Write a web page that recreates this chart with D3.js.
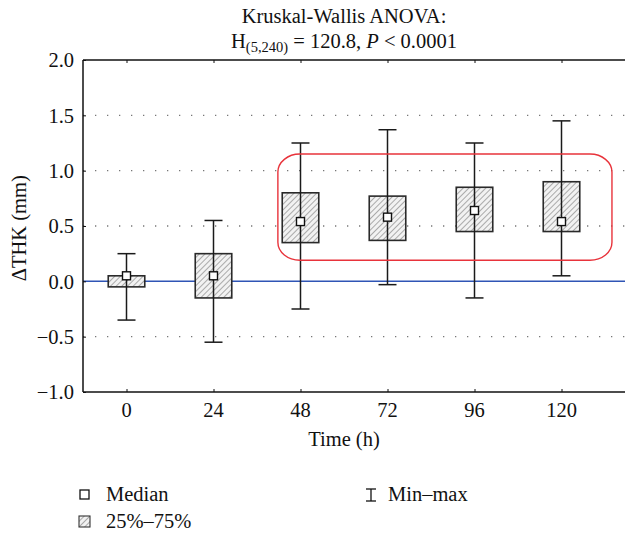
<!DOCTYPE html>
<html>
<head>
<meta charset="utf-8">
<script src="https://cdn.jsdelivr.net/npm/d3@7"></script>
<style>
  body { margin: 0; background: #fff; }
</style>
</head>
<body>
<div id="chart"></div>
<script>
// values
const times = ['0', '24', '48', '72', '96', '120'];
const medians = [0.05, 0.05, 0.54, 0.58, 0.64, 0.54];
const q1s = [-0.05, -0.15, 0.35, 0.37, 0.45, 0.45];
const q3s = [0.05, 0.25, 0.80, 0.77, 0.85, 0.90];
const mins = [-0.35, -0.55, -0.25, -0.03, -0.15, 0.05];
const maxs = [0.25, 0.55, 1.25, 1.37, 1.25, 1.45];
const yTicks = [-1.0, -0.5, 0.0, 0.5, 1.0, 1.5, 2.0];
const gridValues = [-0.5, 0.5, 1.0, 1.5];
// highlighted group (48-120 h), y extent of the red frame
const highlight = { from: '48', to: '120', top: 1.15, bottom: 0.19 };

const data = times.map((t, i) => ({
    time: t, median: medians[i], q1: q1s[i], q3: q3s[i], min: mins[i], max: maxs[i]
}));

const W = 625, H = 535;
const margin = { left: 83, top: 60, right: 20, bottom: 143 };
const plotRight = W - margin.right;
const plotBottom = H - margin.bottom;
const serif = "'Liberation Serif', 'Times New Roman', Times, serif";
const fs = 20.5;

const svg = d3.select('#chart').append('svg')
    .attr('width', W)
    .attr('height', H)
    .style('display', 'block')
    .style('font-family', serif);

const x = d3.scalePoint()
    .domain(times)
    .range([margin.left, plotRight])
    .padding(0.5);

const y = d3.scaleLinear()
    .domain([-1, 2])
    .range([plotBottom, margin.top]);

const step = x.step();
const boxW = step * 0.42;
const capW = 18;

// hatch pattern
const defs = svg.append('defs');
const pat = defs.append('pattern')
    .attr('id', 'hatch')
    .attr('patternUnits', 'userSpaceOnUse')
    .attr('width', 4)
    .attr('height', 4)
    .attr('patternTransform', 'rotate(45)');
pat.append('rect').attr('width', 4).attr('height', 4).attr('fill', '#f2f2f2');
pat.append('line')
    .attr('x1', 0).attr('y1', 0).attr('x2', 0).attr('y2', 4)
    .attr('stroke', '#6e6e6e').attr('stroke-width', 1.1);

// dotted grid
svg.append('g').selectAll('line')
    .data(gridValues)
    .join('line')
    .attr('x1', margin.left).attr('x2', W)
    .attr('y1', d => y(d)).attr('y2', d => y(d))
    .attr('stroke', '#777')
    .attr('stroke-width', 1.3)
    .attr('stroke-dasharray', '1.3,10.7');

// zero line
svg.append('line')
    .attr('x1', margin.left).attr('x2', W)
    .attr('y1', y(0)).attr('y2', y(0))
    .attr('stroke', '#2f55b5')
    .attr('stroke-width', 1.5);

// frame: left, top, bottom
const axisColor = '#111';
svg.append('line')
    .attr('x1', margin.left).attr('x2', margin.left)
    .attr('y1', margin.top).attr('y2', plotBottom)
    .attr('stroke', axisColor).attr('stroke-width', 1.5);
svg.append('line')
    .attr('x1', margin.left).attr('x2', W)
    .attr('y1', margin.top).attr('y2', margin.top)
    .attr('stroke', axisColor).attr('stroke-width', 1.5);
svg.append('line')
    .attr('x1', margin.left).attr('x2', W)
    .attr('y1', plotBottom).attr('y2', plotBottom)
    .attr('stroke', axisColor).attr('stroke-width', 1.5);

// y axis (inward ticks)
const yAxis = svg.append('g')
    .attr('transform', `translate(${margin.left},0)`)
    .call(d3.axisRight(y).tickValues(yTicks).tickSize(3).tickFormat(''));
yAxis.select('.domain').remove();
yAxis.selectAll('line').attr('stroke', axisColor);

svg.append('g').selectAll('text')
    .data(yTicks)
    .join('text')
    .attr('x', margin.left - 9)
    .attr('y', d => y(d))
    .attr('dy', '0.35em')
    .attr('text-anchor', 'end')
    .style('font-size', fs + 'px')
    .attr('fill', '#111')
    .text(d => d3.format('.1f')(d).replace('-', '\u2212'));

// x axis bottom and top (inward ticks)
const xBottom = svg.append('g')
    .attr('transform', `translate(0,${plotBottom})`)
    .call(d3.axisTop(x).tickSize(3).tickFormat(''));
xBottom.select('.domain').remove();
xBottom.selectAll('line').attr('stroke', axisColor);

const xTop = svg.append('g')
    .attr('transform', `translate(0,${margin.top})`)
    .call(d3.axisBottom(x).tickSize(3).tickFormat(''));
xTop.select('.domain').remove();
xTop.selectAll('line').attr('stroke', axisColor);

svg.append('g').selectAll('text')
    .data(times)
    .join('text')
    .attr('x', d => x(d))
    .attr('y', plotBottom + 25)
    .attr('text-anchor', 'middle')
    .style('font-size', fs + 'px')
    .attr('fill', '#111')
    .text(d => d);

// axis titles
svg.append('text')
    .attr('x', (margin.left + plotRight) / 2)
    .attr('y', plotBottom + 54)
    .attr('text-anchor', 'middle')
    .style('font-size', fs + 'px')
    .attr('fill', '#111')
    .text('Time (h)');

svg.append('text')
    .attr('transform', `translate(26,${y(0.48)}) rotate(-90)`)
    .attr('text-anchor', 'middle')
    .style('font-size', fs + 'px')
    .attr('fill', '#111')
    .text('\u0394THK (mm)');

// title
const title = svg.append('g').style('font-size', fs + 'px').attr('fill', '#111');
title.append('text')
    .attr('x', (margin.left + plotRight) / 2)
    .attr('y', 23)
    .attr('text-anchor', 'middle')
    .text('Kruskal-Wallis ANOVA:');
const t2 = title.append('text')
    .attr('x', (margin.left + plotRight) / 2)
    .attr('y', 48)
    .attr('text-anchor', 'middle');
t2.append('tspan').text('H');
t2.append('tspan').style('font-size', '14.5px').attr('dy', 4).text('(5,240)');
t2.append('tspan').attr('dy', -4).text(' = 120.8, ');
t2.append('tspan').style('font-style', 'italic').text('P');
t2.append('tspan').text(' < 0.0001');

// boxes
const groups = svg.append('g').selectAll('g')
    .data(data)
    .join('g');

groups.append('rect')
    .attr('x', d => x(d.time) - boxW / 2)
    .attr('width', boxW)
    .attr('y', d => y(d.q3))
    .attr('height', d => y(d.q1) - y(d.q3))
    .attr('fill', 'url(#hatch)')
    .attr('stroke', '#2a2a2a')
    .attr('stroke-width', 1.6);

groups.append('line')
    .attr('x1', d => x(d.time)).attr('x2', d => x(d.time))
    .attr('y1', d => y(d.max)).attr('y2', d => y(d.min))
    .attr('stroke', '#1a1a1a').attr('stroke-width', 1.5);

groups.selectAll('line.cap')
    .data(d => [d.min, d.max].map(v => ({ time: d.time, v })))
    .join('line')
    .attr('class', 'cap')
    .attr('x1', d => x(d.time) - capW / 2).attr('x2', d => x(d.time) + capW / 2)
    .attr('y1', d => y(d.v)).attr('y2', d => y(d.v))
    .attr('stroke', '#1a1a1a').attr('stroke-width', 1.5);

groups.append('rect')
    .attr('x', d => x(d.time) - 4)
    .attr('y', d => y(d.median) - 4)
    .attr('width', 8).attr('height', 8)
    .attr('fill', '#fff')
    .attr('stroke', '#111')
    .attr('stroke-width', 1.4);

// red highlight frame
const hx0 = x(highlight.from) - step * 0.26;
const hx1 = x(highlight.to) + step * 0.58;
svg.append('rect')
    .attr('x', hx0)
    .attr('y', y(highlight.top))
    .attr('width', hx1 - hx0)
    .attr('height', y(highlight.bottom) - y(highlight.top))
    .attr('rx', 22).attr('ry', 18)
    .attr('fill', 'none')
    .attr('stroke', '#e8333b')
    .attr('stroke-width', 1.4);

// legend
const legend = svg.append('g').style('font-size', fs + 'px').attr('fill', '#111');
legend.append('rect')
    .attr('x', 80).attr('y', 490).attr('width', 9).attr('height', 9)
    .attr('fill', '#fff').attr('stroke', '#111').attr('stroke-width', 1.3);
legend.append('text').attr('x', 106).attr('y', 501).text('Median');

legend.append('rect')
    .attr('x', 79).attr('y', 516).attr('width', 11).attr('height', 11)
    .attr('fill', 'url(#hatch)').attr('stroke', '#333').attr('stroke-width', 1.1);
legend.append('text').attr('x', 106).attr('y', 528).text('25%\u201375%');

const ix = 371;
legend.append('line').attr('x1', ix).attr('x2', ix).attr('y1', 489).attr('y2', 501)
    .attr('stroke', '#111').attr('stroke-width', 1.3);
legend.append('line').attr('x1', ix - 5).attr('x2', ix + 5).attr('y1', 489).attr('y2', 489)
    .attr('stroke', '#111').attr('stroke-width', 1.3);
legend.append('line').attr('x1', ix - 5).attr('x2', ix + 5).attr('y1', 501).attr('y2', 501)
    .attr('stroke', '#111').attr('stroke-width', 1.3);
legend.append('text').attr('x', 388).attr('y', 501).text('Min\u2013max');
</script>
</body>
</html>
